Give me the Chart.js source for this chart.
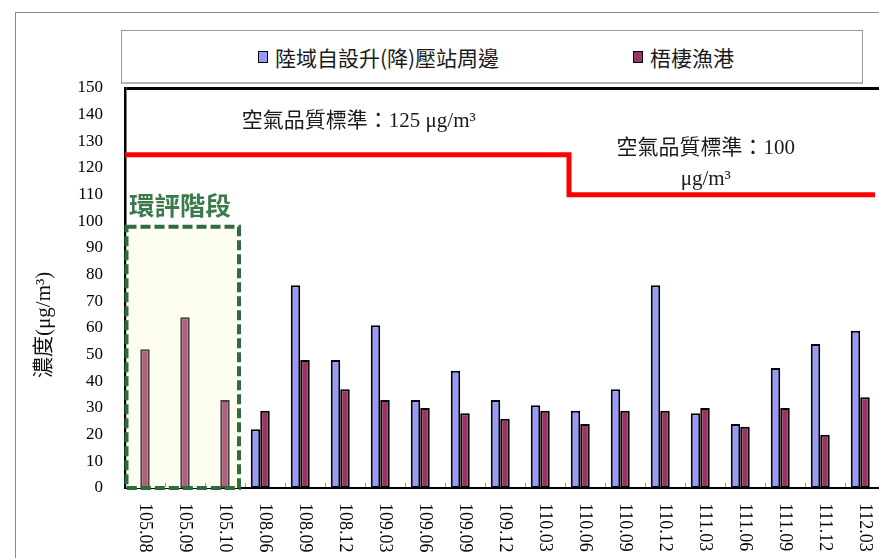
<!DOCTYPE html>
<html><head><meta charset="utf-8">
<script src="https://cdn.jsdelivr.net/npm/chart.js@4"></script>
<style>
html,body{margin:0;padding:0;overflow:hidden;background:#fff;width:879px;height:558px;}
#frame{position:absolute;left:15px;top:12px;width:2000px;height:2000px;border:1px solid #8a8a8a;}
#wrap{position:absolute;left:0;top:0;width:900px;height:558px;}
#legend{position:absolute;left:121px;top:30px;width:742px;height:54px;border:1px solid #999;border-bottom:2px solid #b5b5b5;background:#fff;display:flex;align-items:center;justify-content:center;gap:134px;padding-left:8px;box-sizing:border-box;font-family:'Noto Sans CJK TC';font-size:21px;color:#1a1a1a;}
.item{display:flex;align-items:center;}
.sw{width:10px;height:12px;border:1.5px solid #000;box-sizing:border-box;margin-right:7px;}
</style></head>
<body>
<div id="frame"></div>
<div id="wrap"><canvas id="c" width="900" height="558"></canvas></div>
<div id="legend"></div>
<script>
const categories = ['105.08','105.09','105.10','108.06','108.09','108.12','109.03','109.06','109.09','109.12','110.03','110.06','110.09','110.12','111.03','111.06','111.09','111.12','112.03'];
const landStation = [null,null,null,22,76,48,61,33,44,33,31,29,37,76,28,24,45,54,59];
const wuqiHarbor = [52,64,33,29,48,37,33,30,28,26,29,24,29,29,30,23,30,20,34];
const seriesNames = ['陸域自設升(降)壓站周邊','梧棲漁港'];
const yMin = 0, yMax = 150, yStep = 10;
const standardLine = [{x:0,y:125},{x:11.1,y:125},{x:11.1,y:110},{x:18.75,y:110}];
const standardLabels = ['空氣品質標準：125 μg/m³','空氣品質標準：100','μg/m³'];
const evalStageCount = 3;
const evalStageTop = 98;
const evalStageLabel = '環評階段';
const yTitle = '濃度(μg/m³)';

const BLUE = '#9999FF', RED = '#993366', PINK = '#B0607E';
const SERIF = '"Liberation Serif","Noto Sans CJK TC"';

const overlay = {
  id: 'overlay',
  beforeDatasetsDraw(chart) {
    const {ctx} = chart, x2 = chart.scales.x2, y = chart.scales.y;
    const l = x2.getPixelForValue(0), r = x2.getPixelForValue(evalStageCount - 0.15);
    const t = y.getPixelForValue(evalStageTop), b = y.getPixelForValue(0);
    ctx.save();
    ctx.fillStyle = '#FEFEF0';
    ctx.fillRect(l + 1.5, t, r - l - 1.5, b - t);
    ctx.restore();
  },
  afterDatasetsDraw(chart) {
    const {ctx} = chart, x2 = chart.scales.x2, y = chart.scales.y;
    const b = y.getPixelForValue(0);
    ctx.save();
    ctx.strokeStyle = '#999'; ctx.lineWidth = 1;
    for (let i = 1; i < categories.length; i++) {
      const px = Math.round(x2.getPixelForValue(i)) + 0.5;
      ctx.beginPath(); ctx.moveTo(px, b - 1); ctx.lineTo(px, b - 5); ctx.stroke();
    }
    ctx.restore();
    // eval-stage dashed frame
    const l = x2.getPixelForValue(0), r = x2.getPixelForValue(evalStageCount - 0.15);
    const t = y.getPixelForValue(evalStageTop);
    ctx.save();
    ctx.strokeStyle = '#2E6B3E'; ctx.lineWidth = 4; ctx.setLineDash([10, 4]);
    ctx.strokeRect(l + 1.5, t, r - l - 1.5, b - t);
    ctx.restore();
    // air quality standard line
    ctx.save();
    ctx.strokeStyle = '#FF0000'; ctx.lineWidth = 5; ctx.lineJoin = 'miter';
    ctx.beginPath();
    standardLine.forEach((p, i) => {
      const px = x2.getPixelForValue(p.x), py = y.getPixelForValue(p.y);
      if (i === 0) ctx.moveTo(px, py); else ctx.lineTo(px, py);
    });
    ctx.stroke();
    ctx.restore();
  },
  afterDraw(chart) {
    const {ctx} = chart, xs = chart.scales.x, x2 = chart.scales.x2, y = chart.scales.y;
    ctx.save();
    ctx.fillStyle = '#000';
    ctx.font = '18px "Liberation Serif"';
    ctx.textAlign = 'left'; ctx.textBaseline = 'middle';
    categories.forEach((c, i) => {
      ctx.save();
      ctx.translate(xs.getPixelForValue(i) - 0.5, 503);
      ctx.rotate(Math.PI / 2);
      ctx.fillText(c, 0, 0);
      ctx.restore();
    });
    ctx.save();
    ctx.font = '21px ' + SERIF;
    ctx.fillStyle = '#111';
    ctx.translate(44, y.getPixelForValue(61.2));
    ctx.rotate(-Math.PI / 2);
    ctx.textAlign = 'center';
    ctx.fillText(yTitle, 0, 0);
    ctx.restore();
    ctx.font = '21px ' + SERIF;
    ctx.fillStyle = '#1a1a1a';
    ctx.textAlign = 'left';
    ctx.fillText(standardLabels[0], x2.getPixelForValue(2.92), y.getPixelForValue(137.6));
    ctx.textAlign = 'center';
    ctx.fillText(standardLabels[1], x2.getPixelForValue(14.52), y.getPixelForValue(127.4));
    ctx.fillText(standardLabels[2], x2.getPixelForValue(14.52), y.getPixelForValue(115.8));
    ctx.font = 'bold 25.5px "Noto Sans CJK TC"';
    ctx.fillStyle = '#3B7A4B';
    ctx.textAlign = 'left';
    ctx.fillText(evalStageLabel, x2.getPixelForValue(0.1), y.getPixelForValue(106));
    ctx.restore();
  }
};

const chart = new Chart(document.getElementById('c'), {
  type: 'bar',
  data: {
    labels: categories,
    datasets: [
      { label: seriesNames[0], data: landStation, backgroundColor: BLUE, borderColor: '#000', borderWidth: 2, borderSkipped: false },
      { label: seriesNames[1], data: wuqiHarbor,
        backgroundColor: c => c.dataIndex < evalStageCount ? PINK : RED,
        borderColor: c => c.dataIndex < evalStageCount ? '#444' : '#000',
        borderWidth: 2, borderSkipped: false },
      { label: '', data: categories.map(() => null), backgroundColor: 'transparent', borderWidth: 0 }
    ]
  },
  options: {
    responsive: false,
    animation: false,
    events: [],
    layout: { padding: { left: 0, right: 15, top: 88, bottom: 0 } },
    datasets: { bar: { categoryPercentage: 0.7125, barPercentage: 1 } },
    plugins: { legend: { display: false }, tooltip: { enabled: false } },
    scales: {
      x: {
        type: 'category',
        offset: true,
        grid: { display: false },
        border: { color: '#000', width: 2 },
        ticks: { display: false },
        afterFit: s => { s.height = 70; }
      },
      x2: { type: 'linear', min: 0, max: categories.length, offset: false, display: false, grid: { offset: false } },
      y: {
        min: yMin, max: yMax,
        ticks: { stepSize: yStep, padding: 22, color: '#000', font: { family: 'Liberation Serif', size: 17 } },
        grid: {
          drawTicks: false,
          color: c => (c.tick && c.tick.value === yMax) ? '#000' : 'rgba(0,0,0,0)',
          lineWidth: c => (c.tick && c.tick.value === yMax) ? 3 : 0
        },
        border: { color: '#000', width: 2.5 },
        afterFit: s => { s.width = 125; }
      }
    }
  },
  plugins: [overlay]
});

const lg = document.getElementById('legend');
chart.data.datasets.slice(0, 2).forEach(ds => {
  const it = document.createElement('div'); it.className = 'item';
  const sw = document.createElement('div'); sw.className = 'sw';
  sw.style.background = typeof ds.backgroundColor === 'string' ? ds.backgroundColor : RED;
  const tx = document.createElement('span'); tx.textContent = ds.label;
  it.appendChild(sw); it.appendChild(tx); lg.appendChild(it);
});
</script>
</body></html>
